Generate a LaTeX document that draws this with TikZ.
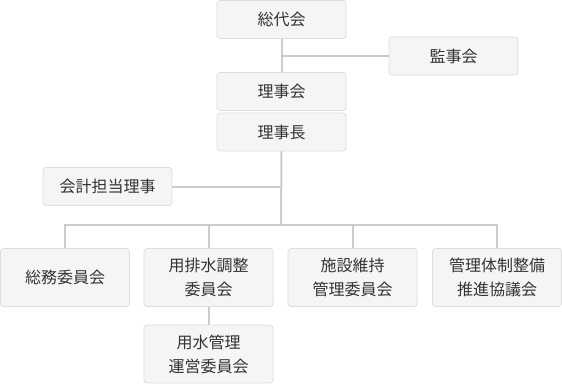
\documentclass[tikz,border=0pt]{standalone}
\usepackage{fontspec}
\newfontfamily\cjk{Noto Sans CJK JP}
\definecolor{boxfill}{HTML}{F5F5F5}
\definecolor{boxborder}{HTML}{DDDDDD}
\definecolor{linecol}{HTML}{CCCCCC}
\definecolor{textcol}{HTML}{333333}
\tikzset{
  box/.style={draw=boxborder, fill=boxfill, rounded corners=3pt, line width=0.8pt,
    minimum width=129pt, minimum height=38pt, inner sep=0pt, align=center,
    font=\cjk\fontsize{16}{24}\selectfont, text=textcol},
  tallbox/.style={box, minimum height=58pt},
  conn/.style={draw=linecol, line width=2pt}
}
\begin{document}
\begin{tikzpicture}[x=1pt,y=-1pt]
\useasboundingbox (0,0) rectangle (562,385);
\coordinate (bus) at (281,224.5);
\node[box] (sodai) at (281.5,19.5) {総代会};
\node[box] (kanji) at (453.5,56) {監事会};
\node[box] (rijikai) at (281.5,91.5) {理事会};
\node[box] (rijicho) at (281.5,132) {理事長};
\node[box] (kaikei) at (107.5,186.5) {会計担当理事};
\node[tallbox] (b1) at (65,277.5) {総務委員会};
\node[tallbox] (b2) at (208.5,277.5) {用排水調整\\委員会};
\node[tallbox] (b3) at (352.5,277.5) {施設維持\\管理委員会};
\node[tallbox] (b4) at (497,277.5) {管理体制整備\\推進協議会};
\node[tallbox] (b5) at (208.5,354) {用水管理\\運営委員会};
\draw[conn] (sodai.south) -- (rijikai.north);
\draw[conn] (kanji.west) -- (kanji.west -| sodai.south);
\draw[conn] (rijicho.south) -- (bus);
\draw[conn] (kaikei.east) -- (kaikei.east -| rijicho.south);
\draw[conn] (b1.north) |- (bus);
\draw[conn] (b4.north) |- (bus);
\draw[conn] (b2.north) -- (b2.north |- bus);
\draw[conn] (b3.north) -- (b3.north |- bus);
\draw[conn] (b2.south) -- (b5.north);
\end{tikzpicture}
\end{document}
